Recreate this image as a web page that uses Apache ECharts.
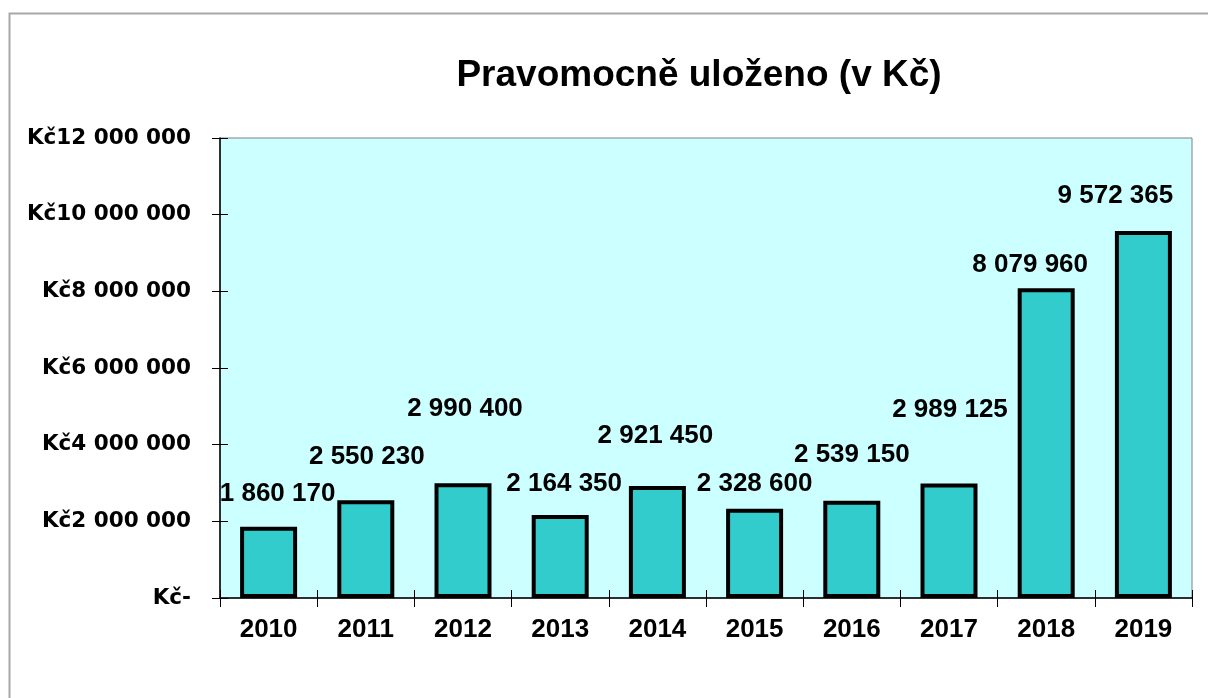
<!DOCTYPE html>
<html>
<head>
<meta charset="utf-8">
<script src="https://cdn.jsdelivr.net/npm/echarts@6/dist/echarts.min.js"></script>
<style>
html,body{margin:0;padding:0;background:#fff;}
#chart{width:1208px;height:698px;}
</style>
</head>
<body>
<div id="chart"></div>
<script>
const titleText = 'Pravomocně uloženo (v Kč)';
const years = ['2010','2011','2012','2013','2014','2015','2016','2017','2018','2019'];
const amounts = [1860170, 2550230, 2990400, 2164350, 2921450, 2328600, 2539150, 2989125, 8079960, 9572365];
const yMin = 0, yMax = 12000000, yStep = 2000000;
// label nudges (px) relative to the default "top" label placement
const labelNudges = [[9,-20],[1,-30],[2,-62],[4,-18],[-2,-37],[0,-12],[0,-33],[1,-61],[-16,-10],[-28,-22]];

function fmt(n){ return String(n).replace(/\B(?=(\d{3})+(?!\d))/g, ' '); }

const chart = echarts.init(document.getElementById('chart'), null, {renderer:'canvas'});
const lblFont = {fontFamily:'Liberation Sans, Arial, sans-serif', fontWeight:'bold', fontSize:26, color:'#000'};

const catAxisBase = {type:'category', data: years, boundaryGap:true};
const valAxisBase = {type:'value', min:yMin, max:yMax, interval:yStep, splitLine:{show:false}};

chart.setOption({
  animation:false,
  backgroundColor:'#fff',
  title:{
    text: titleText,
    left: 694, top: 52, textAlign:'center',
    textStyle:{fontFamily:'Liberation Sans, Arial, sans-serif', fontWeight:'bold', fontSize:37, color:'#000'}
  },
  graphic:[{type:'rect', silent:true, z:-1, shape:{x:9.5,y:13.5,width:1400,height:900}, style:{fill:'none', stroke:'#a8a8a8', lineWidth:2}}],
  grid:{left:220, top:138, right:16, bottom:100, show:true, backgroundColor:'#CCFFFF', borderColor:'#808080', borderWidth:1},
  xAxis:[
    Object.assign({}, catAxisBase, {
      axisLine:{show:true, lineStyle:{color:'#000', width:1.5}},
      axisTick:{show:true, inside:false, length:9, lineStyle:{color:'#000', width:1}},
      axisLabel:Object.assign({margin:19}, lblFont)
    }),
    Object.assign({}, catAxisBase, {
      position:'bottom', offset:0,
      axisLine:{show:false},
      axisTick:{show:true, inside:true, length:8, lineStyle:{color:'#000', width:1}},
      axisLabel:{show:false}
    })
  ],
  yAxis:[
    Object.assign({}, valAxisBase, {
      axisLine:{show:true, lineStyle:{color:'#000', width:1.5}},
      axisTick:{show:true, inside:false, length:8, lineStyle:{color:'#000', width:1}},
      axisLabel:{margin:29, fontFamily:'DejaVu Sans', fontWeight:'bold', fontSize:21.5, color:'#000',
        formatter: v => v === 0 ? 'Kč-' : 'Kč' + fmt(v)}
    }),
    Object.assign({}, valAxisBase, {
      position:'left', offset:0,
      axisLine:{show:false},
      axisTick:{show:true, inside:true, length:8, lineStyle:{color:'#000', width:1}},
      axisLabel:{show:false}
    })
  ],
  series:[{
    type:'bar',
    xAxisIndex:0, yAxisIndex:0,
    barWidth:57,
    data: amounts.map((v,i)=>({value:v, label:{offset:labelNudges[i]}})),
    itemStyle:{color:'#33CCCC', borderColor:'#000', borderWidth:4},
    label:Object.assign({show:true, position:'top', distance:0, formatter: p => fmt(p.value)}, lblFont)
  }]
});
</script>
</body>
</html>
